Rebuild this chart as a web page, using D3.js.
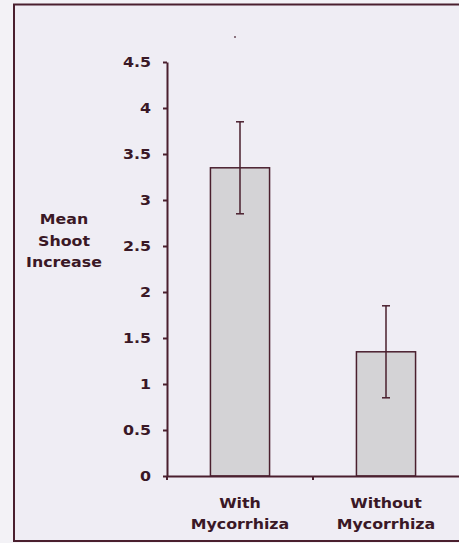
<html lang="en">
<head>
<meta charset="utf-8">
<title>Mean Shoot Increase</title>
<style>
    body {
        margin: 0;
        padding: 0;
        background-color: #f3f2f6;
    }
    svg {
        display: block;
    }
    .axis text {
        font-family: "DejaVu Sans", sans-serif;
        font-weight: bold;
        font-size: 14px;
        fill: #3a1826;
    }
    .axis path,
    .axis line {
        fill: none;
        stroke: #4a1f2e;
        stroke-width: 2px;
    }
    .label {
        font-family: "DejaVu Sans", sans-serif;
        font-weight: bold;
        font-size: 14px;
        fill: #3a1826;
    }
</style>
</head>
<body>
<div id="chart"></div>

<script src="https://d3js.org/d3.v7.min.js"></script>
<script>
    // data
    var categories = ["With Mycorrhiza", "Without Mycorrhiza"];
    var means = [3.35, 1.35];
    var errors = [0.5, 0.5];
    var yTicks = [0, 0.5, 1, 1.5, 2, 2.5, 3, 3.5, 4, 4.5];

    var width = 459;
    var height = 543;
    var stretch = 1.13; // the scanned lettering is a bit wider than the font

    var svg = d3.select("#chart")
        .append("svg")
        .attr("width", width)
        .attr("height", height);

    // panel frame
    svg.append("rect")
        .attr("x", 14)
        .attr("y", 4.5)
        .attr("width", width)
        .attr("height", 536.5)
        .attr("fill", "#efedf4")
        .attr("stroke", "#4a1f2e")
        .attr("stroke-width", 2);

    var x = d3.scaleBand()
        .domain(categories)
        .range([167, 459])
        .padding(0);

    var y = d3.scaleLinear()
        .domain([0, 4.5])
        .range([476, 62]);

    var barW = x.bandwidth() * 0.405;

    var g = svg.append("g");

    // bars
    g.selectAll("rect.bar")
        .data(means)
        .enter()
        .append("rect")
        .attr("class", "bar")
        .attr("x", function(d, i) { return x(categories[i]) + x.bandwidth() / 2 - barW / 2; })
        .attr("y", function(d) { return y(d); })
        .attr("width", barW)
        .attr("height", function(d) { return y(0) - y(d); })
        .attr("fill", "#d4d3d6")
        .attr("stroke", "#4a1f2e")
        .attr("stroke-width", 1.5);

    // error bars
    var eb = g.selectAll("g.err")
        .data(means)
        .enter()
        .append("g")
        .attr("class", "err")
        .attr("stroke", "#4a1f2e")
        .attr("stroke-width", 1.5);

    eb.append("line")
        .attr("x1", function(d, i) { return x(categories[i]) + x.bandwidth() / 2; })
        .attr("x2", function(d, i) { return x(categories[i]) + x.bandwidth() / 2; })
        .attr("y1", function(d, i) { return y(d + errors[i]); })
        .attr("y2", function(d, i) { return y(d - errors[i]); });

    eb.append("line")
        .attr("x1", function(d, i) { return x(categories[i]) + x.bandwidth() / 2 - 4; })
        .attr("x2", function(d, i) { return x(categories[i]) + x.bandwidth() / 2 + 4; })
        .attr("y1", function(d, i) { return y(d + errors[i]); })
        .attr("y2", function(d, i) { return y(d + errors[i]); });

    eb.append("line")
        .attr("x1", function(d, i) { return x(categories[i]) + x.bandwidth() / 2 - 4; })
        .attr("x2", function(d, i) { return x(categories[i]) + x.bandwidth() / 2 + 4; })
        .attr("y1", function(d, i) { return y(d - errors[i]); })
        .attr("y2", function(d, i) { return y(d - errors[i]); });

    // y axis
    var yAxis = d3.axisLeft(y)
        .tickValues(yTicks)
        .tickSize(4)
        .tickPadding(12)
        .tickSizeOuter(0)
        .tickFormat(function(d) { return d; });

    svg.append("g")
        .attr("class", "axis")
        .attr("transform", "translate(167,0)")
        .call(yAxis);

    // x axis: tick only between the two categories
    var xAxis = d3.axisBottom(x)
        .tickValues([])
        .tickSizeOuter(0);

    var xg = svg.append("g")
        .attr("class", "axis")
        .attr("transform", "translate(0,476)")
        .call(xAxis);

    xg.append("line")
        .attr("x1", x(categories[1]))
        .attr("x2", x(categories[1]))
        .attr("y1", 0)
        .attr("y2", 4);

    xg.append("line")
        .attr("x1", 167)
        .attr("x2", 167)
        .attr("y1", 0)
        .attr("y2", 4);

    // category labels, two lines each
    var catLabels = svg.selectAll("text.cat")
        .data(categories)
        .enter()
        .append("text")
        .attr("class", "label cat")
        .attr("text-anchor", "middle")
        .attr("x", function(d) { return x(d) + x.bandwidth() / 2; })
        .attr("y", 508);

    catLabels.selectAll("tspan")
        .data(function(d) { return d.split(" "); })
        .enter()
        .append("tspan")
        .attr("x", function() { var p = this.parentNode; return p.getAttribute("x"); })
        .attr("dy", function(d, i) { return i === 0 ? 0 : 21; })
        .text(function(d) { return d; });

    // y label
    var yLabel = ["Mean", "Shoot", "Increase"];
    svg.selectAll("text.ylab")
        .data(yLabel)
        .enter()
        .append("text")
        .attr("class", "label ylab")
        .attr("text-anchor", "middle")
        .attr("x", 64)
        .attr("y", function(d, i) { return 224 + i * 21.5; })
        .text(function(d) { return d; });

    // widen the lettering
    svg.selectAll(".axis text, text.ylab, text.cat tspan").each(function() {
        var w = this.getComputedTextLength();
        d3.select(this)
            .attr("textLength", w * stretch)
            .attr("lengthAdjust", "spacingAndGlyphs");
    });

    // small speck above the plot
    svg.append("circle")
        .attr("cx", 235)
        .attr("cy", 37)
        .attr("r", 1)
        .attr("fill", "#6a4a58");
</script>
</body>
</html>
